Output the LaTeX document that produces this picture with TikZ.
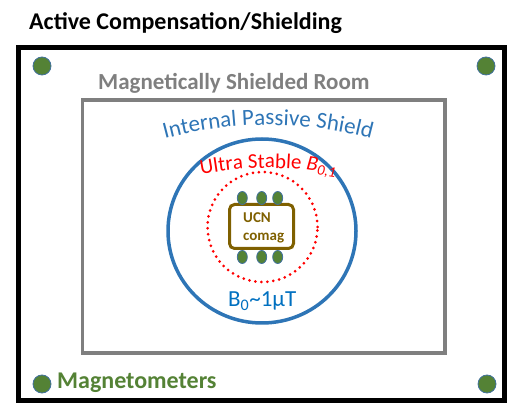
\documentclass[tikz,border=0pt]{standalone}
\usepackage{fontspec}
\setmainfont{Carlito}
\usetikzlibrary{decorations.text}
\definecolor{shieldblue}{RGB}{46,117,182}
\definecolor{fieldblue}{RGB}{0,112,192}
\definecolor{msrgray}{RGB}{127,127,127}
\definecolor{magngreen}{RGB}{84,130,53}
\definecolor{dotedge}{RGB}{65,113,156}
\definecolor{ucnbrown}{RGB}{127,96,0}
\tikzset{
  magdot/.style={fill=magngreen, draw=dotedge, line width=0.8pt},
  labeltext/.style={inner sep=0pt, anchor=base west},
}
\begin{document}
\begin{tikzpicture}[x=1pt,y=1pt]
\useasboundingbox (0,0) rectangle (521,417);
% title
\node[labeltext, font=\fontsize{24}{28}\selectfont\bfseries] (title) at (29,387) {Active Compensation/Shielding};
% outer active compensation frame
\draw[line width=5pt] (18.5,16.5) rectangle (504.5,369);
% magnetically shielded room
\draw[msrgray, line width=3.5pt] (82.5,64) rectangle (445,317);
\node[labeltext, font=\fontsize{23}{27}\selectfont\bfseries, text=msrgray] (msr) at (98,327) {Magnetically Shielded Room};
% internal passive shield
\draw[shieldblue, line width=3.5pt] (262,186) ellipse [x radius=94, y radius=92];
\path[decorate, decoration={text along path, text align=center,
  text={|\fontsize{23}{27}\selectfont\color{shieldblue}|Internal Passive Shield}}]
  (268,-108) ++(112:400) arc[start angle=112, end angle=68, radius=400];
% ultra stable region
\draw[red, line width=3pt, line cap=round, dash pattern=on 0pt off 6pt] (262.5,190) circle [radius=55];
\path[decorate, decoration={text along path, text align=center,
  text={|\fontsize{21}{25}\selectfont\color{red}|Ultra Stable {\textit{B}\textsubscript{\textit{0,1}}}}}]
  (268.5,-101) ++(110:350) arc[start angle=110, end angle=70, radius=350];
% UCN comagnetometer
\node[draw=ucnbrown, line width=3pt, rounded corners=5pt, minimum width=64pt, minimum height=44pt, inner sep=0pt] (ucn) at (261.5,190.5) {};
\node[labeltext, font=\fontsize{15}{18}\selectfont\bfseries, text=ucnbrown] (ucn1) at (243,194) {UCN};
\node[labeltext, font=\fontsize{15}{18}\selectfont\bfseries, text=ucnbrown] (ucn2) at (243,176) {comag};
% local magnetometers
\foreach \xx in {242.3,261.7,277.7} {
  \draw[magdot] (\xx,219) ellipse [x radius=5, y radius=6.5];
  \draw[magdot] (\xx,160) ellipse [x radius=5, y radius=6.5];
}
% B0 label
\node[labeltext, font=\fontsize{23}{27}\selectfont, text=fieldblue] (bzero) at (228,110) {B\textsubscript{0}\textasciitilde 1μT};
% corner magnetometers
\draw[magdot] (42,351) circle [radius=9];
\draw[magdot] (486,351) circle [radius=9];
\draw[magdot] (42,33) circle [radius=9];
\draw[magdot] (487,33) circle [radius=9];
\node[labeltext, font=\fontsize{24}{28}\selectfont\bfseries, text=magngreen] (magn) at (57,29) {Magnetometers};
\end{tikzpicture}
\end{document}
